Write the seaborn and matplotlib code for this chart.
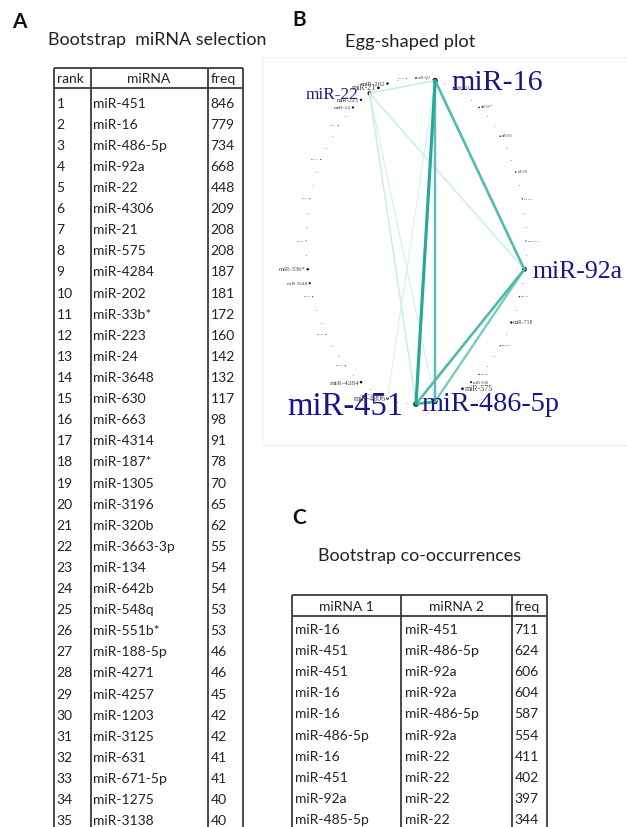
import numpy as np
import pandas as pd
import matplotlib
matplotlib.use("Agg")
import matplotlib.pyplot as plt
from matplotlib.colors import LinearSegmentedColormap
import seaborn as sns

# ---------------- data ----------------
rank_a = [1, 2, 3, 4, 5, 6, 7, 8, 9, 10, 11, 12, 13, 14, 15, 16, 17, 18,
          19, 20, 21, 22, 23, 24, 25, 26, 27, 28, 29, 30, 31, 32, 33, 34, 35]
mirna_a = ["miR-451", "miR-16", "miR-486-5p", "miR-92a", "miR-22", "miR-4306",
           "miR-21", "miR-575", "miR-4284", "miR-202", "miR-33b*", "miR-223",
           "miR-24", "miR-3648", "miR-630", "miR-663", "miR-4314", "miR-187*",
           "miR-1305", "miR-3196", "miR-320b", "miR-3663-3p", "miR-134",
           "miR-642b", "miR-548q", "miR-551b*", "miR-188-5p", "miR-4271",
           "miR-4257", "miR-1203", "miR-3125", "miR-631", "miR-671-5p",
           "miR-1275", "miR-3138"]
freq_a = [846, 779, 734, 668, 448, 209, 208, 208, 187, 181, 172, 160, 142,
          132, 117, 98, 91, 78, 70, 65, 62, 55, 54, 54, 53, 53, 46, 46, 45,
          42, 42, 41, 41, 40, 40]

co_mir1 = ["miR-16", "miR-451", "miR-451", "miR-16", "miR-16", "miR-486-5p",
           "miR-16", "miR-451", "miR-92a", "miR-485-5p"]
co_mir2 = ["miR-451", "miR-486-5p", "miR-92a", "miR-92a", "miR-486-5p",
           "miR-92a", "miR-22", "miR-22", "miR-22", "miR-22"]
co_freq = [711, 624, 606, 604, 587, 554, 411, 402, 397, 344]

# network-only items seen in the plot (estimated)
extra_nodes = ["miR-718"]
extra_node_freq = [150]
extra_edge_a = ["miR-16"]
extra_edge_b = ["miR-4306"]
extra_edge_freq = [330]

# ---------------- layout / style ----------------
N_SLOTS = 72
fixed_slot = {"miR-16": 2, "miR-92a": 20, "miR-718": 24, "miR-630": 30,
              "miR-575": 31, "miR-486-5p": 34, "miR-451": 36, "miR-4306": 39,
              "miR-4284": 42, "miR-3648": 51, "miR-33b*": 52, "miR-24": 65,
              "miR-223": 66, "miR-22": 67, "miR-21": 68, "miR-202": 69}
alias = {"miR-485-5p": "miR-486-5p"}
CX, CY, RA, RB = 416.0, 241.0, 110.0, 163.0
label_dx = {"miR-16": 16, "miR-92a": 8, "miR-486-5p": -14, "miR-451": -13,
            "miR-22": -11}

TXT = ["Lato", "DejaVu Sans"]
SERIF = ["Liberation Serif", "DejaVu Serif"]

sns.set_theme(style="white")
plt.rcParams["font.family"] = TXT

fig = plt.figure(figsize=(6.27, 8.27), dpi=100)
ax = fig.add_axes([0, 0, 1, 1])
ax.set_xlim(0, 627)
ax.set_ylim(827, 0)
ax.axis("off")

PX = 100 / 72.0  # px per pt


def text_c(x, y, s, size, ha="left", **kw):
    # place text so that cap-height is centered on y
    ax.text(x, y + 0.36 * size * PX, s, fontsize=size, ha=ha, va="baseline",
            family=TXT, **kw)


# panel letters and titles
for lab, (x, y) in {"A": (12, 21), "B": (292, 18), "C": (292, 517)}.items():
    text_c(x, y, lab, 15, fontweight="bold", color="#111111")
text_c(48, 39, "Bootstrap  miRNA selection", 12.9, color="#222222")
text_c(345, 40, "Egg-shaped plot", 13.2, color="#222222")
text_c(318, 555, "Bootstrap co-occurrences", 12.9, color="#222222")

LINE = dict(color="#3a3a3a", lw=1.3, solid_capstyle="butt")


def draw_table(edges, top, head_bot, head_c, row0, pitch, headers, head_x,
               head_ha, cols, col_x):
    bottom = 840
    ax.plot([edges[0], edges[-1]], [top, top], **LINE)
    ax.plot([edges[0], edges[-1]], [head_bot, head_bot], **LINE)
    for e in edges:
        ax.plot([e, e], [top, bottom], **LINE)
    for h, hx, ha in zip(headers, head_x, head_ha):
        text_c(hx, head_c, h, 10, ha=ha, color="#222222")
    for col, cx in zip(cols, col_x):
        for i, v in enumerate(col):
            yy = row0 + i * pitch
            if yy > 835:
                break
            text_c(cx, yy, str(v), 10, color="#222222")


draw_table([54, 90.5, 208, 243], 68, 87.5, 78, 102.7, 21.1,
           ["rank", "miRNA", "freq"], [56.5, 149, 210.5],
           ["left", "center", "left"],
           [rank_a, mirna_a, freq_a], [56.5, 93, 210.5])

draw_table([292, 401, 512, 547], 595, 616, 606, 628.5, 21.2,
           ["miRNA 1", "miRNA 2", "freq"], [346.5, 456.5, 514.5],
           ["center", "center", "left"],
           [co_mir1, co_mir2, co_freq], [295.5, 405, 514.5])

# faint frame of panel B
ax.add_patch(plt.Rectangle((262, 57), 400, 388, fill=False,
                           ec="#f1f1f1", lw=1.0))

# ---------------- network ----------------
names = mirna_a + extra_nodes
nfreq = freq_a + extra_node_freq
slot = dict(fixed_slot)
free = [s for s in range(N_SLOTS) if s not in slot.values()]
others = [n for n in names if n not in slot]
pick = np.linspace(0, len(free) - 1, len(others)).round().astype(int)
for n, p in zip(others, pick):
    slot[n] = free[p]


def pos(s):
    t = np.deg2rad(90 - 360.0 * s / N_SLOTS)
    return CX + RA * np.cos(t), CY - RB * np.sin(t)


nodes = pd.DataFrame({"name": names, "freq": nfreq})
nodes["x"] = [pos(slot[n])[0] for n in names]
nodes["y"] = [pos(slot[n])[1] for n in names]
unnamed = [s for s in range(N_SLOTS) if s not in slot.values()]
blank = pd.DataFrame({"x": [pos(s)[0] for s in unnamed],
                      "y": [pos(s)[1] for s in unnamed]})

ea = [alias.get(n, n) for n in co_mir1 + extra_edge_a]
eb = [alias.get(n, n) for n in co_mir2 + extra_edge_b]
ef = co_freq + extra_edge_freq
rows = []
for k, (a, b, f) in enumerate(zip(ea, eb, ef)):
    for n in (a, b):
        xx, yy = pos(slot[n])
        rows.append({"edge": k, "x": xx, "y": yy, "freq": f})
edges = pd.DataFrame(rows)
edges = edges.sort_values("freq", kind="stable")

cmap = LinearSegmentedColormap.from_list(
    "teal", [(0.0, "#d6f1ec"), (0.35, "#bde8e0"), (0.75, "#3fb5a5"),
             (1.0, "#25a795")])
sns.lineplot(data=edges, x="x", y="y", units="edge", estimator=None,
             hue="freq", size="freq", palette=cmap, hue_norm=(330, 720),
             sizes=(0.8, 2.3), size_norm=(330, 720), sort=False,
             legend=False, ax=ax)

sns.scatterplot(data=blank, x="x", y="y", s=0.8, color="#a8a8a8",
                linewidth=0, legend=False, ax=ax)
sns.scatterplot(data=nodes, x="x", y="y", size="freq", sizes=(0.6, 16),
                size_norm=(40, 846), color="#0a0a3a", linewidth=0,
                legend=False, ax=ax)

for n, f, x, y in zip(nodes["name"], nodes["freq"], nodes["x"], nodes["y"]):
    size = f / 36.0
    left = x < CX - 0.5 or n in ("miR-451",)
    dx = label_dx.get(n, -2 if left else 2)
    ha = "right" if left else "left"
    if n == "miR-486-5p":
        ha = "left"
    col = "#16168a" if f >= 400 else "#444444"
    ax.text(x + dx, y + 0.33 * size * PX, n, fontsize=size, ha=ha,
            va="baseline", family=SERIF, color=col)

fig.savefig("out.png", dpi=100)
